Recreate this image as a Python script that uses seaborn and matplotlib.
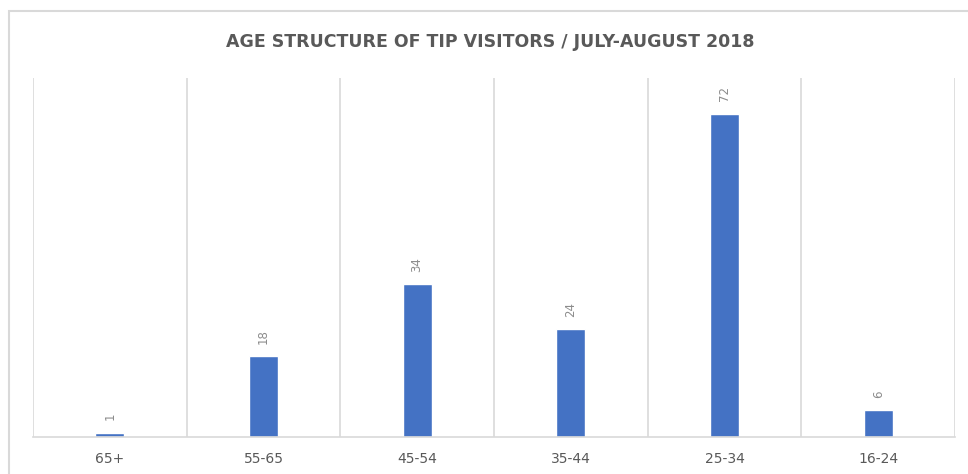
import matplotlib
matplotlib.use("Agg")
import matplotlib.pyplot as plt
from matplotlib.patches import Rectangle
import seaborn as sns
import pandas as pd

categories = ["65+", "55-65", "45-54", "35-44", "25-34", "16-24"]
values = [1, 18, 34, 24, 72, 6]
title = "AGE STRUCTURE OF TIP VISITORS / JULY-AUGUST 2018"

sns.set_style("white")
plt.rcParams['font.family'] = ['DejaVu Sans']

df = pd.DataFrame({"age": categories, "share": values})

W, H = 968, 474
fig = plt.figure(figsize=(W / 100, H / 100), dpi=100)
ax = fig.add_axes([33 / W, 1 - 437 / H, (955 - 33) / W, (437 - 78) / H])

sns.barplot(data=df, x="age", y="share", order=categories, color="#4472C4",
            width=0.19, saturation=1, ax=ax)

ax.set_ylim(0, 80)
ax.set_xlim(-0.5, len(categories) - 0.5)
ax.set_xlabel("")
ax.set_ylabel("")
ax.set_yticks([])

# vertical gridlines at category boundaries
ax.set_xticks([i - 0.5 for i in range(len(categories) + 1)], minor=True)
ax.grid(False)
ax.grid(True, which="minor", axis="x", color="#D9D9D9", linewidth=1.2)
ax.tick_params(axis="x", which="both", length=0, pad=11)
ax.set_xticks(range(len(categories)))
ax.set_xticklabels(categories, color="#595959", fontsize=10)

for s in ["top", "right", "left"]:
    ax.spines[s].set_visible(False)
ax.spines["bottom"].set_color("#D9D9D9")
ax.spines["bottom"].set_linewidth(1.2)

for c in ax.containers:
    ax.bar_label(c, labels=[str(v) for v in values], rotation=90,
                 padding=9, color="#8C8C8C", fontsize=8.5)

fig.text(490 / W, 1 - 42 / H, title, ha="center", va="center",
         fontsize=12.5, fontweight="bold", color="#595959")

# outer chart frame (left and top edges visible)
fig.patches.append(Rectangle((9 / W, -0.2), 1.5, 1.2 - 11 / H,
                             transform=fig.transFigure, fill=False,
                             edgecolor="#D9D9D9", linewidth=1.5))

fig.savefig("out.png", dpi=100)
